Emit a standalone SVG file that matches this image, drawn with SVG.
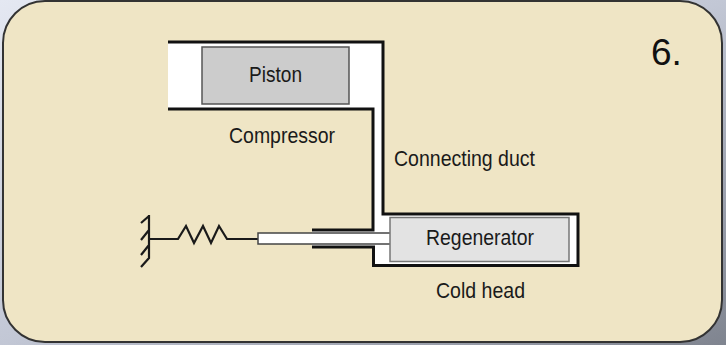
<svg xmlns="http://www.w3.org/2000/svg" width="726" height="345" viewBox="0 0 726 345">
<defs>
<linearGradient id="bg" x1="0" y1="0" x2="1" y2="1"><stop offset="0" stop-color="#e4e8f2"/><stop offset="0.5" stop-color="#c2c7d5"/><stop offset="1" stop-color="#7f848f"/></linearGradient>
</defs>
<style>
text{font-family:"Liberation Sans",Arial,sans-serif;font-size:22px;fill:#1a1a1a;text-anchor:start}
.l{fill:none;stroke:#111;stroke-width:3}
.t{fill:none;stroke:#1a1a1a;stroke-width:2.200}
</style>
<rect width="726" height="345" fill="url(#bg)"/>
<rect id="panel" x="3" y="1" width="719" height="341" rx="42" fill="#efe5c5" stroke="#333" stroke-width="2"/>
<g id="connectors">
<path d="M168 42H383V214H578V265.500H373.500V247H312V230H373V109H168Z" fill="#fff"/>
<path class="l" d="M168 42H383V214H578V265.500H373.500V247H312"/>
<path class="l" d="M168 109H373V230H312"/>
<path class="t" d="M149 215V258L141 267M149 216L141 223M149 230L141 240M149 245L141 255M149 239H178L186 226L194 243L203 226L211 243L219 226L227 239H258"/>
</g>
<g id="rod"><rect x="258" y="233" width="133" height="11" fill="#fff" stroke="#444" stroke-width="1.500"/></g>
<g id="piston"><rect x="202" y="47" width="147" height="57" fill="#ccc" stroke="#555" stroke-width="1.500"/><text x="249" y="82" textLength="53" lengthAdjust="spacingAndGlyphs">Piston</text></g>
<g id="regenerator"><rect x="390" y="217.500" width="179" height="44" fill="#e3e3e3" stroke="#777" stroke-width="1.500"/><text x="426" y="245" textLength="108" lengthAdjust="spacingAndGlyphs">Regenerator</text></g>
<g id="compressor"><text x="229" y="143" textLength="106" lengthAdjust="spacingAndGlyphs">Compressor</text></g>
<g id="duct"><text x="394" y="166" textLength="141" lengthAdjust="spacingAndGlyphs">Connecting duct</text></g>
<g id="coldhead"><text x="436" y="298" textLength="89" lengthAdjust="spacingAndGlyphs">Cold head</text></g>
<g id="step"><text x="651" y="65" style="font-size:37px;fill:#111">6.</text></g>
</svg>
